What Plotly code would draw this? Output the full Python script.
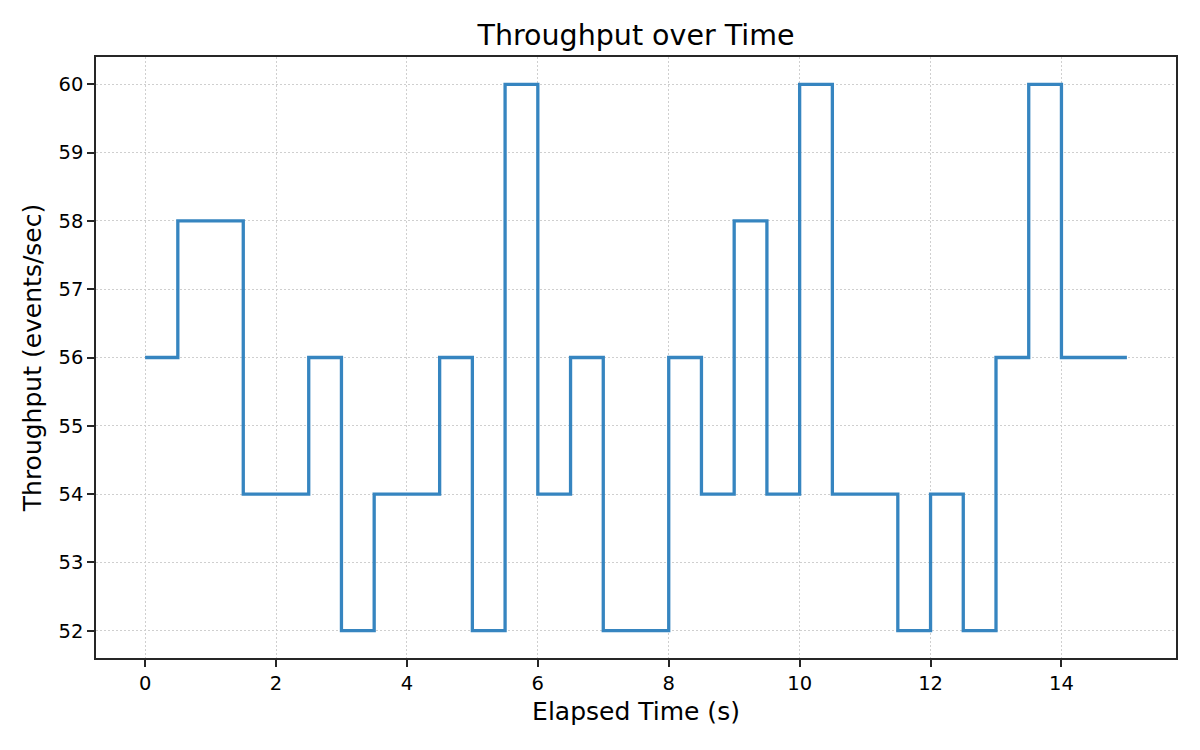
import plotly.graph_objects as go

# elapsed time (s) and throughput samples, drawn as a post-step line
elapsed_s = [0.0, 0.5, 1.0, 1.5, 2.0, 2.5, 3.0, 3.5, 4.0, 4.5, 5.0,
             5.5, 6.0, 6.5, 7.0, 7.5, 8.0, 8.5, 9.0, 9.5, 10.0,
             10.5, 11.0, 11.5, 12.0, 12.5, 13.0, 13.5, 14.0, 14.5, 15.0]
throughput = [56, 58, 58, 54, 54, 56, 52, 54, 54, 56, 52,
              60, 54, 56, 52, 52, 56, 54, 58, 54, 60,
              54, 54, 52, 54, 52, 56, 60, 56, 56, 56]

x_ticks = [0, 2, 4, 6, 8, 10, 12, 14]
y_ticks = [52, 53, 54, 55, 56, 57, 58, 59, 60]

FONT = "DejaVu Sans"
AXIS_COLOR = "#262626"

fig = go.Figure()
fig.add_trace(go.Scatter(
    x=elapsed_s,
    y=throughput,
    mode="lines",
    line=dict(shape="hv", color="#3685c0", width=3.3),
    showlegend=False,
))

axis_common = dict(
    showline=True, linecolor=AXIS_COLOR, linewidth=1.5, mirror=True,
    ticks="outside", ticklen=7, tickwidth=1.5, tickcolor=AXIS_COLOR,
    showgrid=True, gridcolor="#cfcfcf", griddash="2px,2px", gridwidth=1.2,
    zeroline=False,
    tickfont=dict(family=FONT, size=19.5, color="#000000"),
)

fig.update_xaxes(
    range=[-0.75, 15.75], tickvals=x_ticks,
    title=dict(text="Elapsed Time (s)", font=dict(family=FONT, size=25, color="#000000"),
               standoff=8),
    **axis_common,
)
fig.update_yaxes(
    range=[51.6, 60.4], tickvals=y_ticks,
    title=dict(text="Throughput (events/sec)", font=dict(family=FONT, size=25, color="#000000"),
               standoff=10),
    **axis_common,
)

# the page body has an 8px margin, so the figure is shrunk to fit the window
fig.update_layout(
    width=1184, height=734,
    paper_bgcolor="white", plot_bgcolor="white",
    margin=dict(l=88, r=16, t=49, b=84),
    title=dict(text="Throughput over Time", xref="paper", x=0.5, xanchor="center",
               y=0.963, yanchor="middle",
               font=dict(family=FONT, size=28.5, color="#000000")),
)

fig.write_html("out.html")
